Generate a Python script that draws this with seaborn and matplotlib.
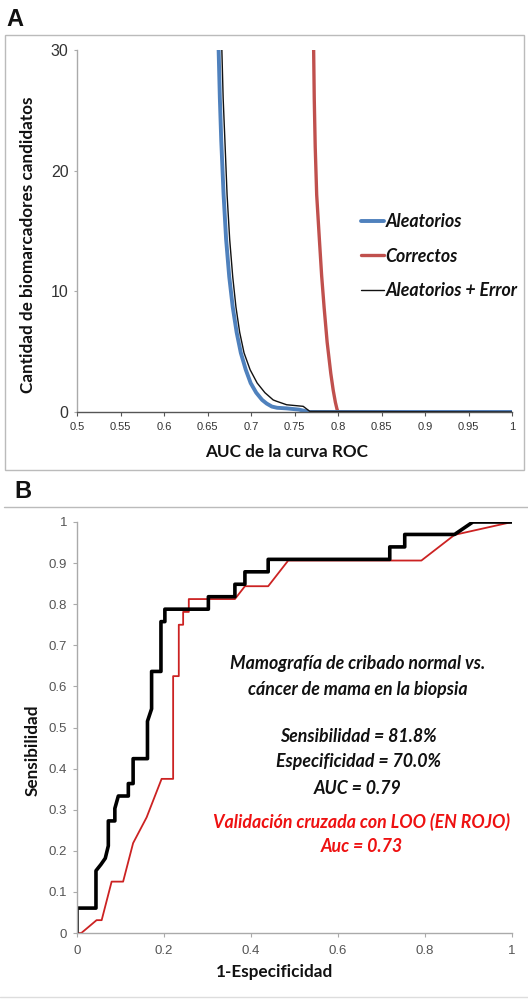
import matplotlib
matplotlib.use("Agg")
import matplotlib.pyplot as plt
import seaborn as sns
import pandas as pd
from matplotlib.lines import Line2D

# ---------------- Data: panel A ----------------
auc_ticks = [0.5, 0.55, 0.6, 0.65, 0.7, 0.75, 0.8, 0.85, 0.9, 0.95, 1.0]
auc_tick_labels = ["0.5", "0.55", "0.6", "0.65", "0.7", "0.75", "0.8", "0.85", "0.9", "0.95", "1"]
count_ticks = [0, 10, 20, 30]

aleatorios_x = [0.6628, 0.6642, 0.6658, 0.6685, 0.6714, 0.675, 0.679, 0.6835, 0.6883, 0.694,
                0.6996, 0.706, 0.7128, 0.718, 0.724, 0.730, 0.741, 0.755, 0.767, 1.0]
aleatorios_y = [30, 26, 22.5, 18, 14.3, 11.2, 8.7, 6.6, 4.9, 3.5,
                2.4, 1.6, 1.0, 0.7, 0.45, 0.35, 0.3, 0.2, 0.0, 0.0]

correctos_x = [0.772, 0.7727, 0.7738, 0.7755, 0.7786, 0.7812, 0.784, 0.7875, 0.7917, 0.7945,
               0.797, 0.7988, 0.8, 1.0]
correctos_y = [30, 26, 22, 18, 14.3, 11.3, 8.7, 5.8, 3.2, 1.8,
               0.8, 0.25, 0.0, 0.0]

error_x = [0.6665, 0.668, 0.670, 0.6725, 0.6755, 0.679, 0.6827, 0.687, 0.692, 0.699,
           0.7071, 0.716, 0.7255, 0.729, 0.741, 0.760, 0.7676, 1.0]
error_y = [30, 26, 22.5, 18, 14.3, 11.2, 8.7, 6.6, 4.9, 3.5,
           2.4, 1.6, 1.0, 0.9, 0.6, 0.47, 0.05, 0.0]

# ---------------- Data: panel B ----------------
roc_ticks_x = [0, 0.2, 0.4, 0.6, 0.8, 1]
roc_ticks_x_labels = ["0", "0.2", "0.4", "0.6", "0.8", "1"]
roc_ticks_y = [0, 0.1, 0.2, 0.3, 0.4, 0.5, 0.6, 0.7, 0.8, 0.9, 1]
roc_ticks_y_labels = ["0", "0.1", "0.2", "0.3", "0.4", "0.5", "0.6", "0.7", "0.8", "0.9", "1"]

roc_fpr = [0.0, 0.0, 0.0436, 0.0436, 0.055, 0.065, 0.072, 0.072, 0.087, 0.087, 0.095,
           0.118, 0.118, 0.129, 0.129, 0.162, 0.162, 0.1715, 0.1715, 0.193, 0.193,
           0.202, 0.202, 0.302, 0.302, 0.363, 0.363, 0.386, 0.386, 0.4395, 0.4395,
           0.719, 0.719, 0.7534, 0.7534, 0.868, 0.910, 1.0]
roc_tpr = [0.0, 0.0606, 0.0606, 0.1515, 0.1667, 0.1818, 0.2121, 0.2727, 0.2727, 0.303, 0.3333,
           0.3333, 0.3636, 0.3636, 0.4242, 0.4242, 0.5152, 0.5455, 0.6364, 0.6364, 0.7576,
           0.7576, 0.7879, 0.7879, 0.8182, 0.8182, 0.8485, 0.8485, 0.8788, 0.8788, 0.9091,
           0.9091, 0.9394, 0.9394, 0.9697, 0.9697, 1.0, 1.0]

loo_fpr = [0.0, 0.010, 0.045, 0.0567, 0.0796, 0.106, 0.129, 0.160, 0.1945, 0.221, 0.221,
           0.234, 0.234, 0.244, 0.244, 0.257, 0.257, 0.363, 0.386, 0.4395, 0.4855,
           0.7917, 0.868, 1.0]
loo_tpr = [0.0, 0.0, 0.03125, 0.03125, 0.125, 0.125, 0.21875, 0.28125, 0.375, 0.375, 0.625,
           0.625, 0.75, 0.75, 0.78125, 0.78125, 0.8125, 0.8125, 0.84375, 0.84375, 0.90625,
           0.90625, 0.96875, 1.0]

# ---------------- Style ----------------
sns.set_theme(style="white")
plt.rcParams["font.family"] = ["Lato", "DejaVu Sans"]

W, H = 528, 999
fig = plt.figure(figsize=(W / 100, H / 100), dpi=100)

def ax_rect(l, t, r, b):
    return [l / W, 1 - b / H, (r - l) / W, (b - t) / H]

BLUE = "#4f81bd"
RED = "#c0504d"
TICKFONT = ["Liberation Sans", "DejaVu Sans"]
LABEL_FS = 12.3
ANN_FS = 12.8

# ---------------- Panel A ----------------
axA = fig.add_axes(ax_rect(77, 50, 512, 412))
dfA = pd.DataFrame({"x": aleatorios_x, "y": aleatorios_y})
dfC = pd.DataFrame({"x": correctos_x, "y": correctos_y})
dfE = pd.DataFrame({"x": error_x, "y": error_y})
sns.lineplot(data=dfC, x="x", y="y", ax=axA, color=RED, lw=2.4, sort=False, estimator=None)
sns.lineplot(data=dfA, x="x", y="y", ax=axA, color=BLUE, lw=2.8, sort=False, estimator=None)
sns.lineplot(data=dfE, x="x", y="y", ax=axA, color="#111111", lw=1.0, sort=False, estimator=None)
axA.set_xlim(0.5, 1.0)
axA.set_ylim(0, 30)
axA.set_xticks(auc_ticks)
axA.set_xticklabels(auc_tick_labels, fontsize=8, color="#333333", family=TICKFONT)
axA.set_yticks(count_ticks)
axA.set_yticklabels([str(v) for v in count_ticks], fontsize=11.5, color="#333333", family=TICKFONT)
for s in ["top", "right"]:
    axA.spines[s].set_visible(False)
axA.spines["left"].set_color("#aaaaaa")
axA.spines["bottom"].set_color("#555555")
axA.spines["left"].set_linewidth(1.0)
axA.spines["bottom"].set_linewidth(1.0)
axA.tick_params(axis="x", direction="out", length=3, width=0.8, color="#555555", pad=4, bottom=True)
axA.tick_params(axis="y", direction="out", length=2, width=0.8, color="#aaaaaa", pad=4, left=True)
axA.set_xlabel("AUC de la curva ROC", fontsize=LABEL_FS, fontweight="bold", color="#111111")
axA.set_ylabel("Cantidad de biomarcadores candidatos", fontsize=LABEL_FS, fontweight="bold", color="#111111")
axA.xaxis.set_label_coords((287 - 77) / 435, (412 - 452) / 362)
axA.yaxis.set_label_coords((28 - 77) / 435, (412 - 245) / 362)
axA.xaxis.label.set_va("center")
axA.yaxis.label.set_va("center")

handles = [Line2D([], [], color=BLUE, lw=2.8),
           Line2D([], [], color=RED, lw=2.4),
           Line2D([], [], color="#111111", lw=1.0)]
leg = axA.legend(handles, ["Aleatorios", "Correctos", "Aleatorios + Error"],
                 loc="center left", bbox_to_anchor=((361 - 77) / 435, (412 - 256) / 362),
                 frameon=False, handlelength=1.3, handletextpad=0.08, labelspacing=1.0,
                 borderpad=0, borderaxespad=0,
                 prop={"family": ["Lato", "DejaVu Sans"], "weight": "bold", "style": "italic", "size": 12.8})
for t in leg.get_texts():
    t.set_color("#111111")

# frame around panel A
fig.patches.append(plt.Rectangle((5 / W, 1 - 470 / H), 519 / W, 435 / H, transform=fig.transFigure,
                                 fill=False, edgecolor="#bbbbbb", lw=1.0))
fig.text(15 / W, 1 - 20 / H, "A", fontsize=17, fontweight="bold", ha="center", va="center",
         family=["Liberation Sans", "DejaVu Sans"], color="#111111")

# ---------------- Panel B ----------------
axB = fig.add_axes(ax_rect(77, 522, 512, 933))
dfR = pd.DataFrame({"x": roc_fpr, "y": roc_tpr})
dfL = pd.DataFrame({"x": loo_fpr, "y": loo_tpr})
sns.lineplot(data=dfL, x="x", y="y", ax=axB, color="#cc2222", lw=1.3, sort=False, estimator=None)
sns.lineplot(data=dfR, x="x", y="y", ax=axB, color="#000000", lw=2.6, sort=False, estimator=None)
axB.set_xlim(0, 1)
axB.set_ylim(0, 1)
axB.set_xticks(roc_ticks_x)
axB.set_xticklabels(roc_ticks_x_labels, fontsize=9.5, color="#555555", family=TICKFONT)
axB.set_yticks(roc_ticks_y)
axB.set_yticklabels(roc_ticks_y_labels, fontsize=9.5, color="#555555", family=TICKFONT)
for s in ["top", "right"]:
    axB.spines[s].set_visible(False)
for s in ["left", "bottom"]:
    axB.spines[s].set_color("#aaaaaa")
    axB.spines[s].set_linewidth(1.0)
axB.tick_params(axis="both", direction="out", length=3, width=0.8, color="#aaaaaa", pad=4,
                bottom=True, left=True)
axB.tick_params(axis="x", pad=6)
axB.set_xlabel("1-Especificidad", fontsize=LABEL_FS, fontweight="bold", color="#111111")
axB.set_ylabel("Sensibilidad", fontsize=LABEL_FS, fontweight="bold", color="#111111")
axB.xaxis.set_label_coords((275 - 77) / 435, (933 - 972) / 411)
axB.yaxis.set_label_coords((33 - 77) / 435, (933 - 750) / 411)
axB.xaxis.label.set_va("center")
axB.yaxis.label.set_va("center")

bi = dict(fontsize=ANN_FS, fontweight="bold", style="italic", ha="center", va="center",
          family=["Lato", "DejaVu Sans"], transform=axB.transAxes)
axB.text(0.646, (933 - 664) / 411, "Mamografía de cribado normal vs.", color="#111111", **bi)
axB.text(0.646, (933 - 690) / 411, "cáncer de mama en la biopsia", color="#111111", **bi)
axB.text(0.646, (933 - 736) / 411, "Sensibilidad = 81.8%", color="#111111", **bi)
axB.text(0.646, (933 - 762) / 411, "Especificidad = 70.0%", color="#111111", **bi)
axB.text(0.646, (933 - 788) / 411, "AUC = 0.79", color="#111111", **bi)
axB.text(0.655, (933 - 822) / 411, "Validación cruzada con LOO (EN ROJO)", color="#ee1111", **bi)
axB.text(0.655, (933 - 847) / 411, "Auc = 0.73", color="#ee1111", **bi)

fig.add_artist(Line2D([4 / W, 1.0], [1 - 507 / H, 1 - 507 / H], transform=fig.transFigure,
                      color="#bbbbbb", lw=1.0))
fig.add_artist(Line2D([0.0, 1.0], [1 - 997 / H, 1 - 997 / H], transform=fig.transFigure,
                      color="#dddddd", lw=1.0))
fig.text(23 / W, 1 - 491 / H, "B", fontsize=17, fontweight="bold", ha="center", va="center",
         family=["Liberation Sans", "DejaVu Sans"], color="#111111")

fig.savefig("out.png", dpi=100, facecolor="white")
